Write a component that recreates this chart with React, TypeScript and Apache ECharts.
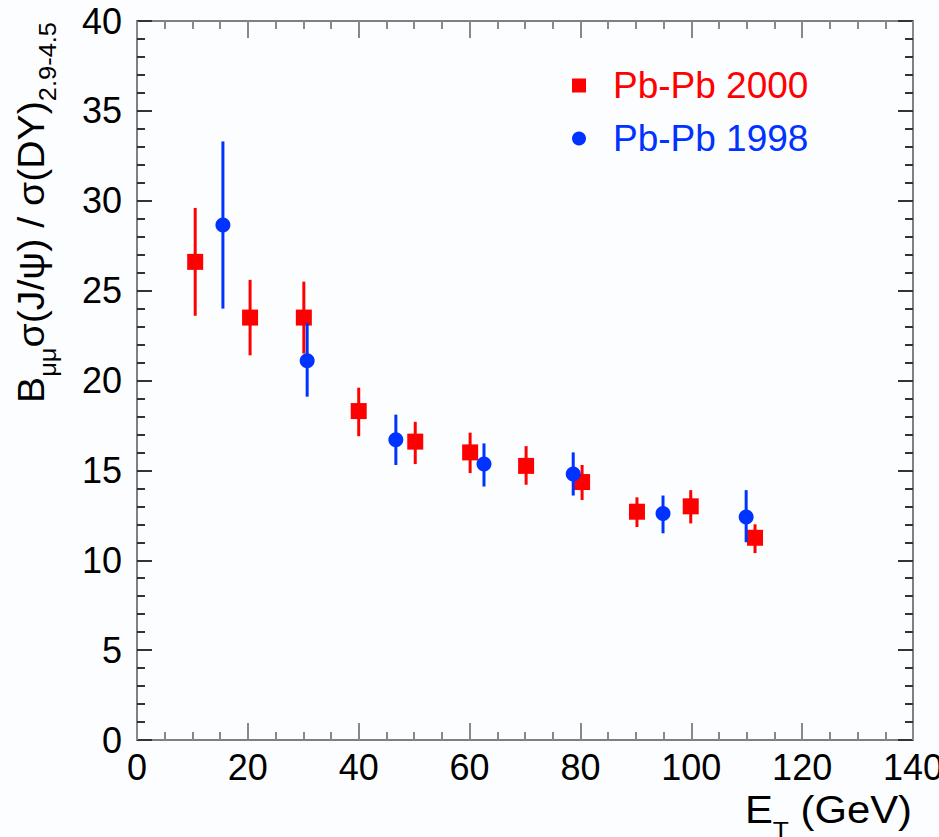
import React, { useEffect, useRef } from "react";
import * as echarts from "echarts";

// Pb-Pb 2000 (red squares)
const red2000X = [10.5, 20.4, 30.1, 40.0, 50.2, 60.1, 70.2, 80.3, 90.2, 99.9, 111.5];
const red2000Y = [26.6, 23.5, 23.5, 18.3, 16.6, 16.0, 15.25, 14.35, 12.7, 13.0, 11.25];
const red2000Lo = [23.6, 21.4, 21.5, 16.9, 15.35, 14.85, 14.2, 13.35, 11.85, 12.05, 10.4];
const red2000Hi = [29.6, 25.6, 25.5, 19.6, 17.7, 17.1, 16.35, 15.3, 13.5, 13.9, 12.0];

// Pb-Pb 1998 (blue circles)
const blue1998X = [15.5, 30.7, 46.7, 62.6, 78.7, 94.9, 109.9];
const blue1998Y = [28.65, 21.1, 16.7, 15.35, 14.8, 12.6, 12.4];
const blue1998Lo = [24.0, 19.1, 15.3, 14.1, 13.6, 11.5, 11.0];
const blue1998Hi = [33.3, 23.2, 18.1, 16.5, 16.0, 13.6, 13.9];

const xMin = 0;
const xMax = 140;
const xInterval = 20;
const yMin = 0;
const yMax = 40;
const yInterval = 5;

const RED = "#ff0000";
const BLUE = "#0033ff";
const FONT = "Liberation Sans, Arial, Helvetica, sans-serif";

export default function App() {
  const ref = useRef<HTMLDivElement>(null);

  useEffect(() => {
    if (!ref.current) return;
    const chart = echarts.init(ref.current, undefined, { renderer: "svg" });

    const errRender = (color: string) => (params: any, api: any) => {
      const x = api.value(0);
      const lo = api.value(1);
      const hi = api.value(2);
      const p1 = api.coord([x, lo]);
      const p2 = api.coord([x, hi]);
      return {
        type: "line",
        shape: { x1: p1[0], y1: p1[1], x2: p2[0], y2: p2[1] },
        style: { stroke: color, lineWidth: 3 },
      };
    };

    const axisLineStyle = { color: "#808080", width: 2 };
    const xTickStyle = { color: "#888", width: 2 };
    const yTickStyle = { color: "#333", width: 2 };

    const xBase = {
      type: "value",
      min: xMin,
      max: xMax,
      interval: xInterval,
      splitLine: { show: false },
      axisLine: { show: true, onZero: false, lineStyle: axisLineStyle },
      axisTick: { show: true, inside: true, length: 17, lineStyle: xTickStyle },
      minorTick: { show: true, splitNumber: 4, length: 8, lineStyle: xTickStyle },
      minorSplitLine: { show: false },
    };
    const yBase = {
      type: "value",
      min: yMin,
      max: yMax,
      interval: yInterval,
      splitLine: { show: false },
      axisLine: { show: true, onZero: false, lineStyle: axisLineStyle },
      axisTick: { show: true, inside: true, length: 15, lineStyle: yTickStyle },
      minorTick: { show: true, splitNumber: 5, length: 8, lineStyle: yTickStyle },
      minorSplitLine: { show: false },
    };

    const option: any = {
      animation: false,
      backgroundColor: "#fcfdff",
      textStyle: { fontFamily: FONT },
      grid: {
        left: 137,
        top: 21,
        width: 776,
        height: 719,
        containLabel: false,
        outerBoundsMode: "none",
      },
      xAxis: [
        {
          ...xBase,
          position: "bottom",
          axisLabel: {
            show: true,
            fontSize: 36,
            color: "#000",
            fontFamily: FONT,
            margin: 9,
          },
        },
        { ...xBase, position: "top", axisLabel: { show: false } },
      ],
      yAxis: [
        {
          ...yBase,
          position: "left",
          axisLabel: {
            show: true,
            fontSize: 36,
            color: "#000",
            fontFamily: FONT,
            margin: 15,
          },
        },
        { ...yBase, position: "right", axisLabel: { show: false } },
      ],
      legend: {
        orient: "vertical",
        left: 567,
        top: 62,
        itemWidth: 14,
        itemHeight: 14,
        itemGap: 16,
        selectedMode: false,
        textStyle: { fontSize: 37, fontFamily: FONT, padding: [0, 0, 0, 22] },
        data: [
          { name: "Pb-Pb 2000", icon: "rect", itemStyle: { color: RED, opacity: 1 }, textStyle: { color: RED } },
          { name: "Pb-Pb 1998", icon: "circle", itemStyle: { color: BLUE, opacity: 1 }, textStyle: { color: BLUE } },
        ],
      },
      graphic: [
        {
          type: "text",
          x: 12,
          y: 22,
          rotation: Math.PI / 2,
          scaleX: 1.06,
          style: {
            text: "{m|B}{s|μμ}{m|σ(J/ψ) / σ(DY)}{s|2.9-4.5}",
            align: "right",
            verticalAlign: "top",
            fill: "#000",
            rich: {
              m: { fontSize: 37, lineHeight: 37, verticalAlign: "top", fontFamily: FONT, fill: "#000" },
              s: {
                fontSize: 24,
                lineHeight: 24,
                verticalAlign: "top",
                padding: [24, 0, 0, 0],
                fontFamily: FONT,
                fill: "#000",
              },
            },
          },
        },
        {
          type: "text",
          x: 912,
          y: 791,
          scaleX: 1.1,
          style: {
            text: "{m|E}{s|T}{m| (GeV)}",
            align: "right",
            verticalAlign: "top",
            fill: "#000",
            rich: {
              m: { fontSize: 38, lineHeight: 38, verticalAlign: "top", fontFamily: FONT, fill: "#000" },
              s: {
                fontSize: 24,
                lineHeight: 24,
                verticalAlign: "top",
                padding: [27, 0, 0, 0],
                fontFamily: FONT,
                fill: "#000",
              },
            },
          },
        },
      ],
      series: [
        {
          type: "custom",
          name: "err2000",
          renderItem: errRender(RED),
          encode: { x: 0, y: [1, 2] },
          data: red2000X.map((x, i) => [x, red2000Lo[i], red2000Hi[i]]),
          z: 2,
        },
        {
          type: "scatter",
          name: "Pb-Pb 2000",
          symbol: "rect",
          symbolSize: 16,
          itemStyle: { color: RED, opacity: 1 },
          data: red2000X.map((x, i) => [x, red2000Y[i]]),
          z: 3,
        },
        {
          type: "custom",
          name: "err1998",
          renderItem: errRender(BLUE),
          encode: { x: 0, y: [1, 2] },
          data: blue1998X.map((x, i) => [x, blue1998Lo[i], blue1998Hi[i]]),
          z: 4,
        },
        {
          type: "scatter",
          name: "Pb-Pb 1998",
          symbol: "circle",
          symbolSize: 15,
          itemStyle: { color: BLUE, opacity: 1 },
          data: blue1998X.map((x, i) => [x, blue1998Y[i]]),
          z: 5,
        },
      ],
    };

    chart.setOption(option);
    return () => {
      chart.dispose();
    };
  }, []);

  return (
    <div
      ref={ref}
      style={{ position: "absolute", left: 0, top: 0, width: 939, height: 837 }}
    />
  );
}
